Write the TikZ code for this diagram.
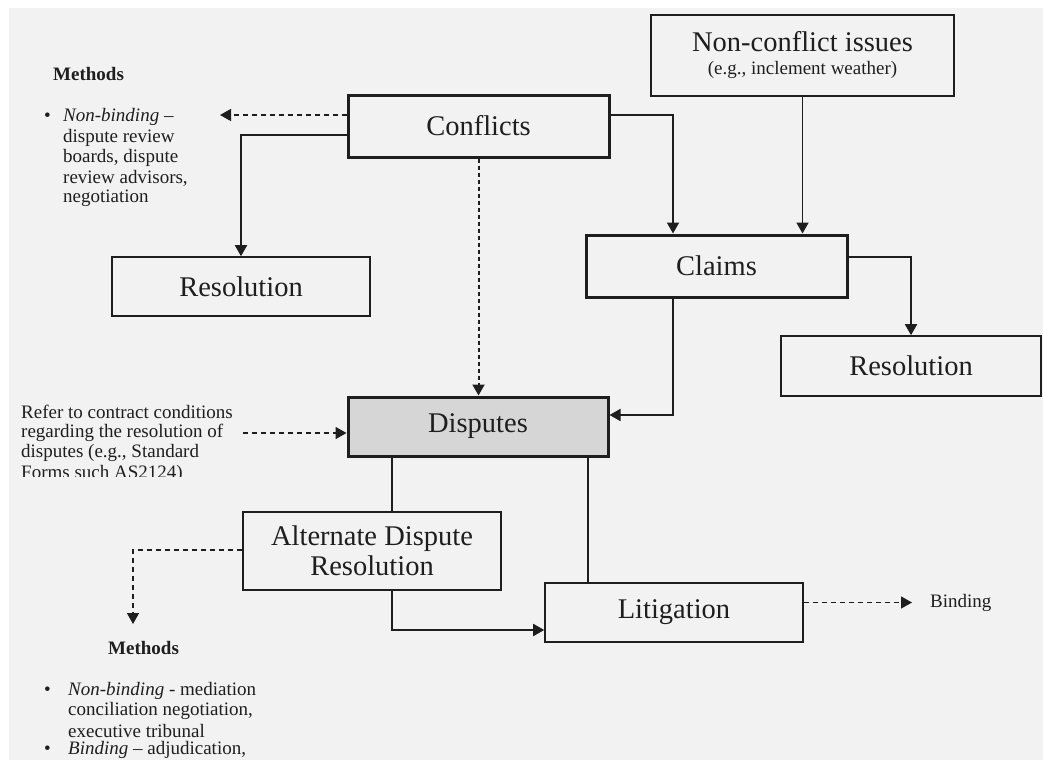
\documentclass[tikz,border=0pt]{standalone}
\usepackage{fontspec}
\setmainfont{Liberation Serif}
\usetikzlibrary{arrows.meta}
\definecolor{bgc}{HTML}{F2F2F2}
\definecolor{dispc}{HTML}{D6D6D6}
\definecolor{ink}{HTML}{1E1E1E}
\tikzset{
  box/.style={draw=ink, line width=1.6pt, rectangle, inner sep=0pt, font=\fontsize{28.5}{30}\selectfont, text=ink, align=center},
  thickbox/.style={box, line width=3pt},
  conn/.style={draw=ink, line width=1.8pt, -{Triangle[length=11pt,width=12pt]}},
  plain/.style={draw=ink, line width=1.8pt},
  dashconn/.style={conn, line width=1.5pt, dash pattern=on 5pt off 4pt},
  dotconn/.style={conn, line width=2pt, dash pattern=on 4pt off 3pt},
  small/.style={font=\fontsize{19}{20.5}\selectfont, inner sep=0pt, text=ink, anchor=west},
  smallb/.style={small, font=\fontsize{19}{20.5}\selectfont\bfseries},
}
\begin{document}
\begin{tikzpicture}[x=1pt,y=-1pt]
\fill[white] (0,0) rectangle (1043,760);
\fill[bgc] (9,8) rectangle (1043,760);
\useasboundingbox (0,0) rectangle (1043,760);

% boxes
\node[box, minimum width=303pt, minimum height=81pt] (nc) at (802.5,55.5)
  {\fontsize{28.5}{23}\selectfont Non-conflict issues\\[-7pt]{\fontsize{19}{20}\selectfont (e.g., inclement weather)}};
\node[thickbox, minimum width=261pt, minimum height=62pt] (conf) at (478.5,126) {Conflicts};
\node[thickbox, minimum width=261pt, minimum height=62pt] (claims) at (716.5,266) {Claims};
\node[box, minimum width=258pt, minimum height=59pt] (resL) at (241,286.5) {Resolution};
\node[box, minimum width=260pt, minimum height=60pt] (resR) at (911,366) {Resolution};
\node[thickbox, fill=dispc, minimum width=260pt, minimum height=59pt] (disp) at (478,426.5) {Disputes};
\node[box, minimum width=258pt, minimum height=78pt] (adr) at (372,551) {Alternate Dispute\\Resolution};
\node[box, minimum width=258pt, minimum height=59pt] (lit) at (674,612.5) {Litigation};

% free ends
\coordinate (cL) at (220,115);
\coordinate (rfE) at (243,433);
\coordinate (bindE) at (912,602.5);
\coordinate (adrE) at (133,624);

% connectors
\draw[conn] (nc.south) -- (nc.south |- claims.north);
\draw[conn] ([yshift=11pt]conf.east) -| ([xshift=-43.5pt]claims.north);
\draw[dotconn] (conf.south) -- (conf.south |- disp.north);
\draw[dashconn] ([yshift=11pt]conf.west) -- (cL);
\draw[conn] ([yshift=-9pt]conf.west) -| (resL.north);
\draw[conn] ([yshift=9pt]claims.east) -| (resR.north);
\draw[conn] ([xshift=-43.5pt]claims.south) |- ([yshift=11.5pt]disp.east);
\draw[dashconn] (rfE) -- ([yshift=-6.5pt]disp.west);
\draw[plain] ([xshift=-86pt]disp.south) -- ([xshift=-86pt]disp.south |- adr.north);
\draw[plain] ([xshift=110pt]disp.south) -- ([xshift=110pt]disp.south |- lit.north);
\draw[conn] ([xshift=20pt]adr.south) |- ([yshift=-17.5pt]lit.west);
\draw[dashconn] ([yshift=10pt]lit.east) -- (bindE);
\draw[dashconn] ([yshift=1pt]adr.west) -| (adrE);

% texts top left
\node[smallb] (m1) at (53,74) {Methods};
\node[small] (b1) at (44,117) {\textbullet};
\node[small] (t1a) at (63,117) {\textit{Non-binding} –};
\node[small] (t1b) at (63,138) {dispute review};
\node[small] (t1c) at (63,158) {boards, dispute};
\node[small] (t1d) at (63,178) {review advisors,};
\node[small] (t1e) at (63,198) {negotiation};

% refer text
\begin{scope}
\clip (0,0) rectangle (340,476);
\node[small] (r1) at (21,412) {Refer to contract conditions};
\node[small] (r2) at (21,433) {regarding the resolution of};
\node[small] (r3) at (21,453) {disputes (e.g., Standard};
\node[small] (r4) at (21,474) {Forms such AS2124)};
\end{scope}

% binding
\node[small] (bind) at (930,602.5) {Binding};

% bottom methods
\node[smallb] (m2) at (108,648) {Methods};
\node[small] (b2) at (44,691) {\textbullet};
\node[small] (t2a) at (68,691) {\textit{Non-binding} - mediation};
\node[small] (t2b) at (68,711) {conciliation negotiation,};
\node[small] (t2c) at (68,731) {executive tribunal};
\node[small] (b3) at (44,750) {\textbullet};
\node[small] (t2d) at (68,750) {\textit{Binding} – adjudication,};
\end{tikzpicture}
\end{document}
